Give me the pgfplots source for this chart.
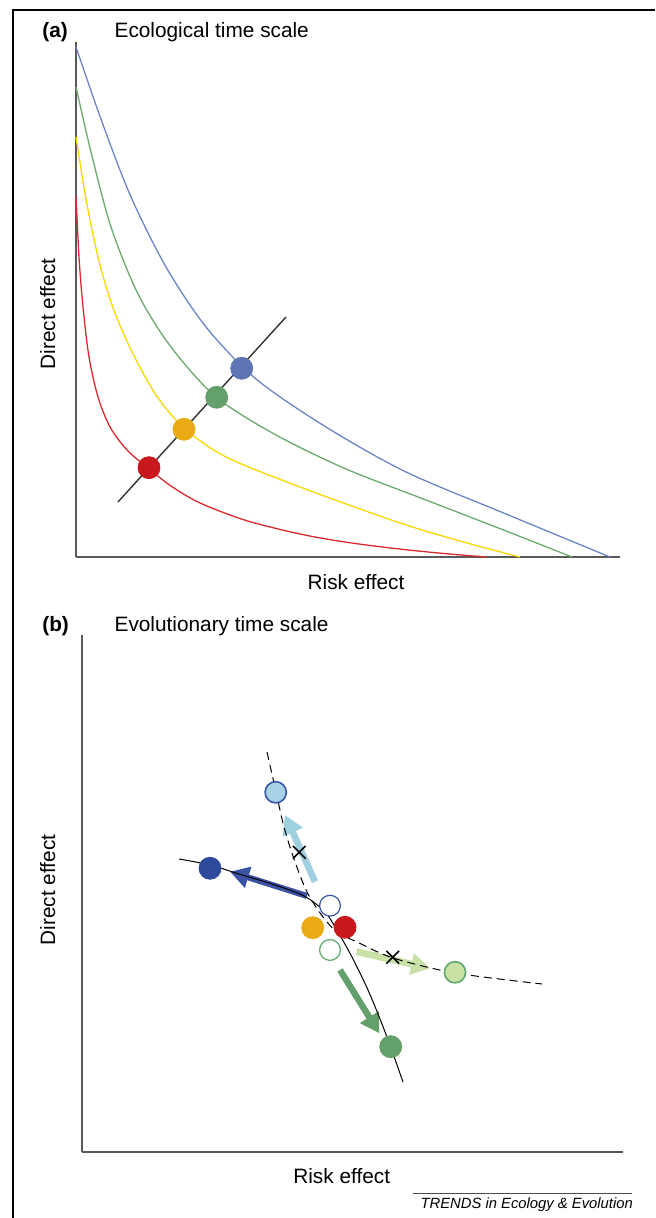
\documentclass[border=0pt]{standalone}
\usepackage{fontspec}
\setmainfont{Liberation Sans}
\usepackage{pgfplots}
\pgfplotsset{compat=1.18}
\usetikzlibrary{arrows.meta}

% curve and dot colours, panel (a)
\definecolor{ablue}{HTML}{6C84C8}
\definecolor{agreen}{HTML}{6BAA6F}
\definecolor{ayellow}{HTML}{F7D900}
\definecolor{ared}{HTML}{DA2A30}
\definecolor{dblue}{HTML}{5E74B5}
\definecolor{dgreen}{HTML}{64A06B}
\definecolor{dyellow}{HTML}{E9AA14}
\definecolor{dred}{HTML}{C8181E}
% panel (b)
\definecolor{navy}{HTML}{2E4A9B}
\definecolor{navyarrow}{HTML}{3A53A4}
\definecolor{lblue}{HTML}{A8D3E6}
\definecolor{lbluearrow}{HTML}{9FD0E0}
\definecolor{lgreen}{HTML}{C8E0A4}
\definecolor{lgreenarrow}{HTML}{C9E0A6}
\definecolor{edgegreen}{HTML}{5DAA6B}
\definecolor{edgeblue}{HTML}{3A55A5}

\pgfplotsset{
  panel/.style={
    x=0.5pt, y=0.5pt, anchor=south west,
    axis lines=left,
    axis line style={-, line width=0.9pt, draw=black!65},
    ticks=none, enlargelimits=false, clip=false,
    xmin=0, ymin=0,
  },
  curve/.style={smooth, line width=0.65pt, no markers},
  dot/.style={only marks, mark=*, mark size=5.5pt, mark options={draw=#1, fill=#1}},
  fat/.style={line width=3pt, no markers, draw=#1,
    -{Triangle[length=9.5pt, width=10.5pt]}},
}

\begin{document}
\begin{tikzpicture}[x=0.5pt, y=0.5pt]
\path[use as bounding box] (0,0) rectangle (655,1218);
\draw[line width=0.8pt] (13,0) -- (13,1208) -- (655,1208);

\fontsize{10.4}{12.5}\selectfont
\node[anchor=base west, font=\bfseries] at (35,1180.7) {(a)};
\node[anchor=base west] at (107.3,1180.7) {Ecological time scale};
\node[anchor=base, rotate=90] at (55,904) {Direct effect};
\node[anchor=base] at (356,628.7) {Risk effect};

% ---------- (a) ----------
\begin{axis}[panel, at={(76,661)}, xmax=544, ymax=515]
\addplot[curve, ablue] coordinates {
  (0,510) (26,435) (55,360) (90,290) (130,230) (180,178)
  (250,130) (330,85) (430,43) (534,0)};
\addplot[curve, agreen] coordinates {
  (0,470) (15,405) (35,330) (62,263) (95,210) (140,160)
  (200,122) (270,88) (350,57) (430,26) (496,0)};
\addplot[curve, ayellow] coordinates {
  (0,420) (10,358) (22,300) (36,252) (55,207) (80,162)
  (108,129) (150,100) (224,70) (324,34) (391,14) (444,0)};
\addplot[curve, ared] coordinates {
  (0,362) (3,300) (7,250) (13,200) (22,160) (34,130) (51,107)
  (72,89) (95,71) (124,54) (170,36.5) (224,23) (270,14.8)
  (324,7.9) (370,3.3) (410,0)};
\addplot[line width=0.7pt, black!80, no markers] coordinates {(42,55) (210,240)};
\addplot[dot=dblue] coordinates {(165.7,188.7)};
\addplot[dot=dgreen] coordinates {(140.7,159.7)};
\addplot[dot=dyellow] coordinates {(108,127.7)};
\addplot[dot=dred] coordinates {(73,89.3)};
\end{axis}

\node[anchor=base west, font=\bfseries] at (35,586.3) {(b)};
\node[anchor=base west] at (107.3,586.3) {Evolutionary time scale};
\node[anchor=base, rotate=90] at (55,328) {Direct effect};
\node[anchor=base] at (341.7,34.7) {Risk effect};

% ---------- (b) ----------
\begin{axis}[panel, at={(82,66)}, xmax=541, ymax=517]
\addplot[only marks, mark=*, mark size=5.3pt,
  mark options={draw=edgeblue, fill=lblue, line width=0.8pt}] coordinates {(193.7,359.7)};
\addplot[only marks, mark=*, mark size=5.3pt,
  mark options={draw=edgegreen, fill=lgreen, line width=0.8pt}] coordinates {(373,179.7)};
\addplot[fat=navyarrow, smooth] coordinates {(225,256) (195,265.5) (165,275) (148,280.3)};
\addplot[fat=lbluearrow, line width=3.3pt] coordinates {(233,270.3) (203,337)};
\addplot[fat=lgreenarrow, line width=3.4pt] coordinates {(274.7,200.3) (348,183.7)};
\addplot[fat=dgreen, line width=3.2pt] coordinates {(258,182) (297.3,118.7)};
\addplot[dot=dyellow] coordinates {(230.7,224.3)};
\addplot[dot=dred] coordinates {(263,224.7)};
\addplot[curve, black, line width=0.5pt] coordinates {
  (97,293) (128,287) (160,277) (190,268) (222,256) (243,240)
  (256,220) (271,193) (286,162) (298,133) (309,104) (321,70)};
\addplot[curve, black, line width=0.5pt, dash pattern=on 4pt off 2.5pt] coordinates {
  (185,400) (194,360) (202,325) (212,293) (225,260) (241,235)
  (255,220) (275,210) (311,194) (373,179) (460,168)};
\addplot[dot=navy] coordinates {(128,283.7)};
\addplot[dot=dgreen] coordinates {(308.7,105.3)};
\addplot[only marks, mark=*, mark size=5.2pt,
  mark options={draw=edgeblue, fill=white, line width=0.6pt}] coordinates {(248,246.3)};
\addplot[only marks, mark=*, mark size=5.2pt,
  mark options={draw=edgegreen, fill=white, line width=0.6pt}] coordinates {(248,202)};
\addplot[only marks, mark=x, mark size=4.5pt,
  mark options={draw=black, line width=0.8pt}] coordinates {(217.3,299.7) (310.7,194.7)};
\end{axis}

\draw[line width=0.5pt, black!70] (413,24.7) -- (632,24.7);
\node[anchor=base west, font=\fontsize{7.4}{9}\selectfont\itshape] at (413.3,10) {TRENDS in Ecology \& Evolution};
\end{tikzpicture}
\end{document}
